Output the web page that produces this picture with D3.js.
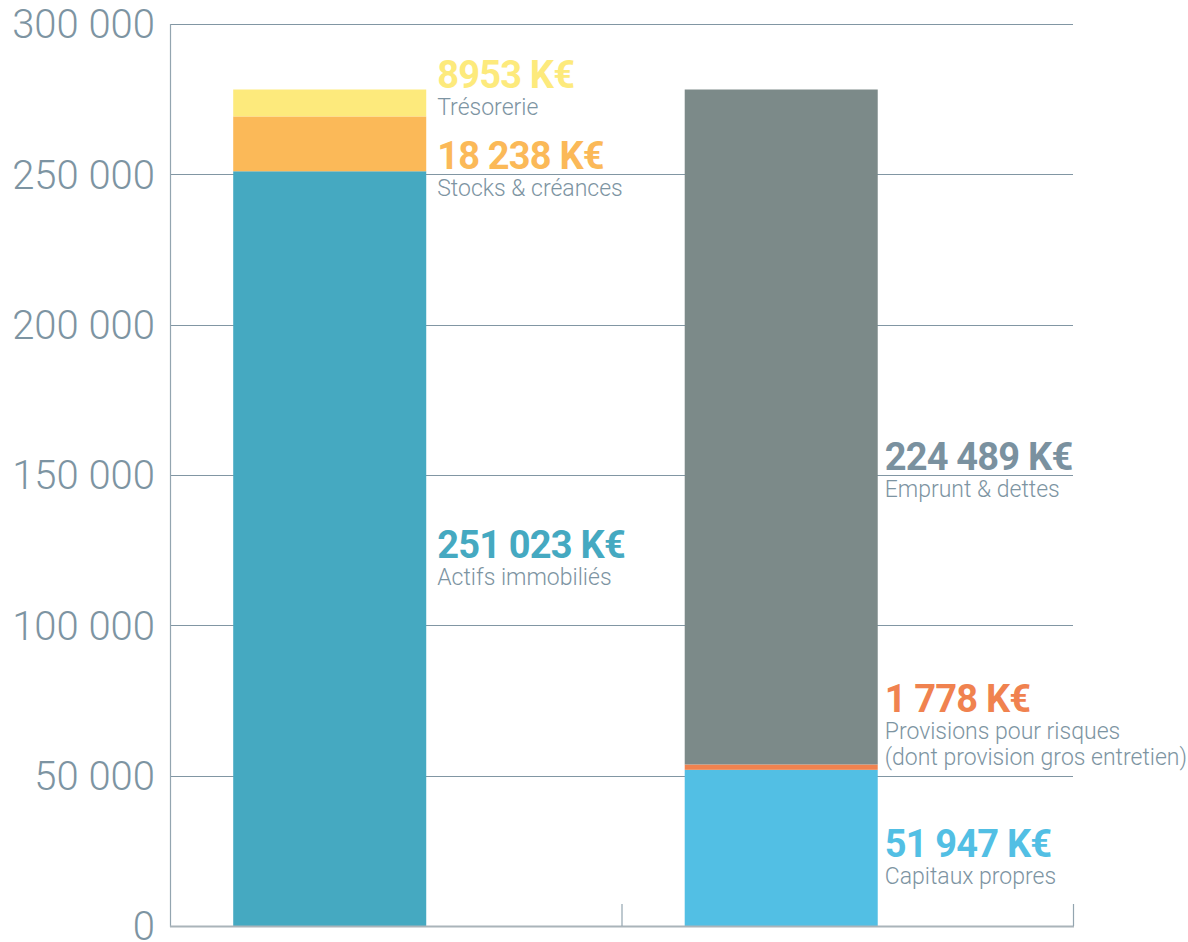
<!DOCTYPE html>
<html><head><meta charset="utf-8">
<script src="https://cdn.jsdelivr.net/npm/d3@7"></script>
<style>body{margin:0;background:#fff}svg{display:block}</style>
</head><body>
<script>
const categories = ["Actif", "Passif"];
const actifSegments = ["Actifs immobiliés", "Stocks & créances", "Trésorerie"];
const actifValues = [251023, 18238, 8953];
const passifSegments = ["Capitaux propres", "Provisions pour risques|(dont provision gros entretien)", "Emprunt & dettes"];
const passifValues = [51947, 1778, 224489];
const valueLabels = [["251 023 K€", "18 238 K€", "8953 K€"], ["51 947 K€", "1 778 K€", "224 489 K€"]];
const yTicks = [0, 50000, 100000, 150000, 200000, 250000, 300000];
const yTickLabels = ["0", "50 000", "100 000", "150 000", "200 000", "250 000", "300 000"];

const barColors = [["#45a9c1", "#fbb958", "#fdea7c"], ["#52bfe4", "#f0824f", "#7c8a89"]];
const textColors = [["#45a9c1", "#fbb958", "#fdea7c"], ["#52bfe4", "#f0824f", "#7a919f"]];
const labelDy = [[9, 25, -15], [9, -55, 43]];
const labelGap = [11, 7];

const W = 1188, H = 942;
const L = 170, R = 1073, T = 24, B = 926;
const svg = d3.select("body").append("svg").attr("width", W).attr("height", H);

const x = d3.scaleBand().domain(categories).range([L, R]).paddingInner(0).paddingOuter(0);
const y = d3.scaleLinear().domain([0, 300000]).range([B, T]);
const fontFam = "Roboto, 'Open Sans', sans-serif";

// gridlines
svg.append("g").selectAll("line").data(yTicks.slice(1)).join("line")
  .attr("x1", L).attr("x2", R).attr("y1", d => Math.round(y(d)) + 0.5).attr("y2", d => Math.round(y(d)) + 0.5)
  .attr("stroke", "#8196a3").attr("stroke-width", 1);

// y tick labels
svg.append("g").selectAll("text").data(yTicks).join("text")
  .attr("x", 155).attr("y", d => y(d)).attr("dy", "0.36em")
  .attr("text-anchor", "end").attr("fill", "#7d94a2")
  .style("font-family", fontFam).style("font-weight", 300).style("font-size", "40px")
  .text((d, i) => yTickLabels[i]);

// bars
const allValues = [actifValues, passifValues];
const allNames = [actifSegments, passifSegments];
const bw = x.bandwidth();
const barOff = bw * 0.14, barW = bw * 0.4275;
const segs = [];
categories.forEach((c, ci) => {
  let acc = 0;
  allValues[ci].forEach((v, si) => {
    segs.push({ci, si, y0: acc, y1: acc + v, name: allNames[ci][si], label: valueLabels[ci][si]});
    acc += v;
  });
});
svg.append("g").selectAll("rect").data(segs).join("rect")
  .attr("x", d => x(categories[d.ci]) + barOff)
  .attr("width", barW)
  .attr("y", d => y(d.y1))
  .attr("height", d => y(d.y0) - y(d.y1))
  .attr("fill", d => barColors[d.ci][d.si]);

// axes lines
svg.append("line").attr("x1", L + 0.5).attr("x2", L + 0.5).attr("y1", T).attr("y2", B + 1)
  .attr("stroke", "#93a5b0").attr("stroke-width", 1.2);
svg.append("line").attr("x1", L).attr("x2", R + 1).attr("y1", B + 0.5).attr("y2", B + 0.5)
  .attr("stroke", "#aab4ba").attr("stroke-width", 2);
svg.append("g").selectAll("line").data(categories).join("line")
  .attr("x1", d => x(d) + bw + 0.5).attr("x2", d => x(d) + bw + 0.5)
  .attr("y1", B - 22).attr("y2", B)
  .attr("stroke", "#93a5b0").attr("stroke-width", 1.2);

// labels
const lg = svg.append("g");
segs.forEach(d => {
  const lx = x(categories[d.ci]) + barOff + barW + labelGap[d.ci];
  const mid = y((d.y0 + d.y1) / 2) + labelDy[d.ci][d.si];
  lg.append("text").attr("x", lx).attr("y", mid)
    .attr("fill", textColors[d.ci][d.si])
    .style("font-family", fontFam).style("font-weight", 700).style("font-size", "38px")
    .style("letter-spacing", "-0.8px")
    .text(d.label);
  d.name.split("|").forEach((line, li) => {
    lg.append("text").attr("x", lx).attr("y", mid + 27 + li * 26)
      .attr("fill", "#7d94a2")
      .style("font-family", fontFam).style("font-weight", 300).style("font-size", "23px")
      .text(line);
  });
});
</script>
</body></html>
